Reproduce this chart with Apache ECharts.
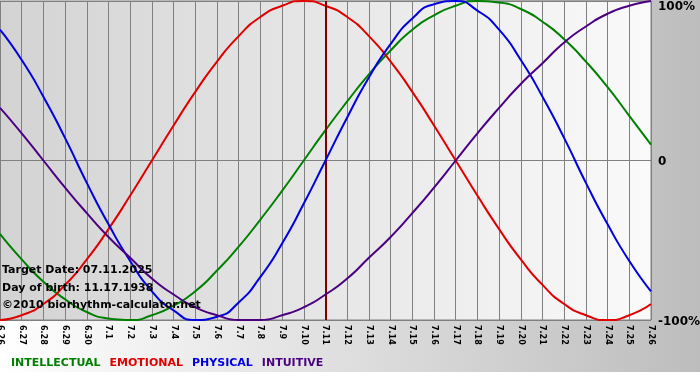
<!DOCTYPE html>
<html>
<head>
<meta charset="utf-8">
<script src="https://cdn.jsdelivr.net/npm/echarts@6/dist/echarts.min.js"></script>
<style>
html,body{margin:0;padding:0;background:#fff;}
#chart{width:700px;height:380px;}
</style>
</head>
<body>
<div id="chart"></div>
<script>
var days = ['6.26','6.27','6.28','6.29','6.30','7.1','7.2','7.3','7.4','7.5','7.6','7.7','7.8','7.9','7.10','7.11','7.12','7.13','7.14','7.15','7.16','7.17','7.18','7.19','7.20','7.21','7.22','7.23','7.24','7.25','7.26'];
var targetDay = '7.11';
var intellectual = [-0.46,-0.62,-0.76,-0.87,-0.95,-0.99,-1.00,-0.97,-0.91,-0.82,-0.69,-0.54,-0.37,-0.19,0,0.19,0.37,0.54,0.69,0.82,0.91,0.97,1.00,0.99,0.95,0.87,0.76,0.62,0.46,0.28,0.10];
var emotional = [-1.00,-0.97,-0.90,-0.78,-0.62,-0.43,-0.22,0,0.22,0.43,0.62,0.78,0.90,0.97,1.00,0.97,0.90,0.78,0.62,0.43,0.22,0,-0.22,-0.43,-0.62,-0.78,-0.90,-0.97,-1.00,-0.97,-0.90];
var physical = [0.82,0.63,0.40,0.14,-0.14,-0.40,-0.63,-0.82,-0.94,-1.00,-0.98,-0.89,-0.73,-0.52,-0.27,0,0.27,0.52,0.73,0.89,0.98,1.00,0.94,0.82,0.63,0.40,0.14,-0.14,-0.40,-0.63,-0.82];
var intuitive = [0.33,0.17,0,-0.17,-0.33,-0.48,-0.61,-0.74,-0.84,-0.92,-0.97,-1.00,-1.00,-0.97,-0.92,-0.84,-0.74,-0.61,-0.48,-0.33,-0.17,0,0.17,0.33,0.48,0.61,0.74,0.84,0.92,0.97,1.00];
var seriesNames = ['INTELLECTUAL','EMOTIONAL','PHYSICAL','INTUITIVE'];
var seriesColors = ['#008000','#e00000','#0000e0','#4b0082'];
var yTickLabels = {'1':'100%','0':'0','-1':'-100%'};
var infoLines = ['Target Date: 07.11.2025','Day of birth: 11.17.1938','\u00a92010 biorhythm-calculator.net'];

var FONT = '"DejaVu Sans", Verdana, sans-serif';
var chart = echarts.init(document.getElementById('chart'), null, {renderer:'canvas'});
var values = [intellectual, emotional, physical, intuitive];
var series = values.map(function(v, i){
  var s = {
    name: seriesNames[i], type:'line', data: v, smooth: 0.6, symbol:'none',
    lineStyle:{color: seriesColors[i], width:2}, itemStyle:{color: seriesColors[i]},
    animation:false, z: 3 + i
  };
  if (i === 0) {
    s.markLine = {
      silent:true, symbol:'none', label:{show:false},
      lineStyle:{color:'#800000', width:2, type:'solid'},
      data:[{xAxis: targetDay}], animation:false
    };
  }
  return s;
});

var graphics = [
  {type:'rect', left:0, bottom:0, shape:{width:700, height:8}, style:{fill:'#ffffff'}, z:0, silent:true}
];
infoLines.forEach(function(t, i){
  graphics.push({type:'text', left:2, top:265 + i*17.5, z:100,
    style:{text:t, font:'bold 11px ' + FONT, fill:'#000'}});
});

chart.setOption({
  animation:false,
  backgroundColor:{type:'linear', x:0, y:0, x2:1, y2:0,
    colorStops:[{offset:0,color:'#ffffff'},{offset:1,color:'#bdbdbd'}]},
  grid:{left:0, right:49, top:1, bottom:60, show:true, containLabel:false, outerBoundsMode:'none',
    backgroundColor:{type:'linear', x:0, y:0, x2:1, y2:0,
      colorStops:[{offset:0,color:'#d3d3d3'},{offset:1,color:'#fafafa'}]},
    borderColor:'#808080', borderWidth:1},
  legend:{
    left:1, top:353, icon:'none', itemWidth:0, itemHeight:10, itemGap:4,
    selectedMode:false,
    data: seriesNames.map(function(n,i){ return {name:n, textStyle:{color:seriesColors[i]}}; }),
    textStyle:{fontFamily:FONT, fontWeight:'bold', fontSize:11}
  },
  xAxis:{
    type:'category', data: days, boundaryGap:false,
    axisLine:{show:true, lineStyle:{color:'#808080', width:1}},
    axisTick:{show:true, interval:0, length:4, lineStyle:{color:'#808080'}},
    splitLine:{show:true, interval:0, lineStyle:{color:'#808080', width:1}},
    axisLabel:{interval:0, rotate:-90, margin:5, color:'#000', fontFamily:FONT, fontWeight:'bold', fontSize:8, hideOverlap:false}
  },
  yAxis:{
    type:'value', position:'right', min:-1, max:1, interval:1,
    axisLine:{show:false}, axisTick:{show:false},
    splitLine:{show:true, lineStyle:{color:'#808080', width:1}},
    axisLabel:{
      margin:7, color:'#000', fontFamily:FONT, fontWeight:'bold', fontSize:12,
      formatter:function(v){ var t = yTickLabels[String(v)]; return v === 1 ? '{t|' + t + '}' : '{n|' + t + '}'; },
      rich:{
        t:{padding:[12,0,0,0], fontFamily:FONT, fontWeight:'bold', fontSize:12, color:'#000'},
        n:{padding:[3,0,0,0], fontFamily:FONT, fontWeight:'bold', fontSize:12, color:'#000'}
      }
    }
  },
  graphic: graphics,
  series: series
});
</script>
</body>
</html>
